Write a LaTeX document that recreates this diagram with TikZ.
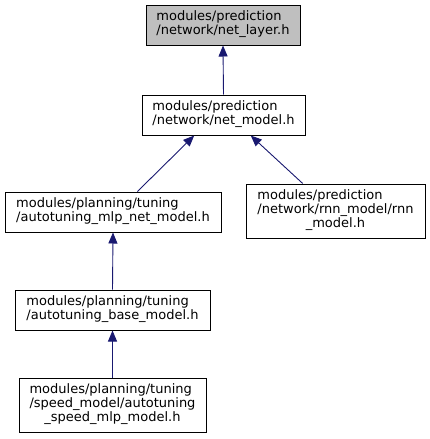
\documentclass[tikz,border=0pt]{standalone}
\usepackage{fontspec}
\setmainfont{DejaVu Sans}
\usepackage{xcolor}
\usetikzlibrary{arrows.meta}
\definecolor{IncBlue}{HTML}{191970}
\definecolor{IncGray}{HTML}{BFBFBF}
\newcommand{\lastrow}[1]{\multicolumn{1}{@{}c@{}}{#1}}

\begin{document}
\begin{tikzpicture}[x=1pt,y=-1pt,
    font=\fontsize{13}{14}\selectfont,
    filebox/.style={draw=black,line width=1pt,fill=white,inner sep=0pt},
    dep/.style={draw=IncBlue,line width=0.9pt,-{Triangle[length=11pt,width=9pt]}}]
  \useasboundingbox (0,0) rectangle (429,439);
  % headers, top to bottom
  \node[filebox,fill=IncGray,minimum width=154pt,minimum height=40pt] (layer) at (223,25)
    {\begin{tabular}{@{}l@{}}modules/prediction\\/network/net\_layer.h\end{tabular}};
  \node[filebox,minimum width=163pt,minimum height=40pt] (model) at (223.5,115)
    {\begin{tabular}{@{}l@{}}modules/prediction\\/network/net\_model.h\end{tabular}};
  \node[filebox,minimum width=216pt,minimum height=40pt] (mlp) at (113,212)
    {\begin{tabular}{@{}l@{}}modules/planning/tuning\\/autotuning\_mlp\_net\_model.h\end{tabular}};
  \node[filebox,minimum width=179pt,minimum height=54pt] (rnn) at (335.5,211)
    {\begin{tabular}{@{}l@{}}modules/prediction\\/network/rnn\_model/rnn\\\lastrow{\_model.h}\end{tabular}};
  \node[filebox,minimum width=195pt,minimum height=40pt] (base) at (112.5,310)
    {\begin{tabular}{@{}l@{}}modules/planning/tuning\\/autotuning\_base\_model.h\end{tabular}};
  \node[filebox,minimum width=187pt,minimum height=54pt] (speed) at (112.5,405)
    {\begin{tabular}{@{}l@{}}modules/planning/tuning\\/speed\_model/autotuning\\\lastrow{\_speed\_mlp\_model.h}\end{tabular}};
  % includes
  \draw[dep] (model.north) -- (layer.south);
  \draw[dep] (mlp.40) -- (model.215);
  \draw[dep] (rnn.140) -- (model.323);
  \draw[dep] (base.north) -- (mlp.south);
  \draw[dep] (speed.north) -- (base.south);
\end{tikzpicture}
\end{document}
